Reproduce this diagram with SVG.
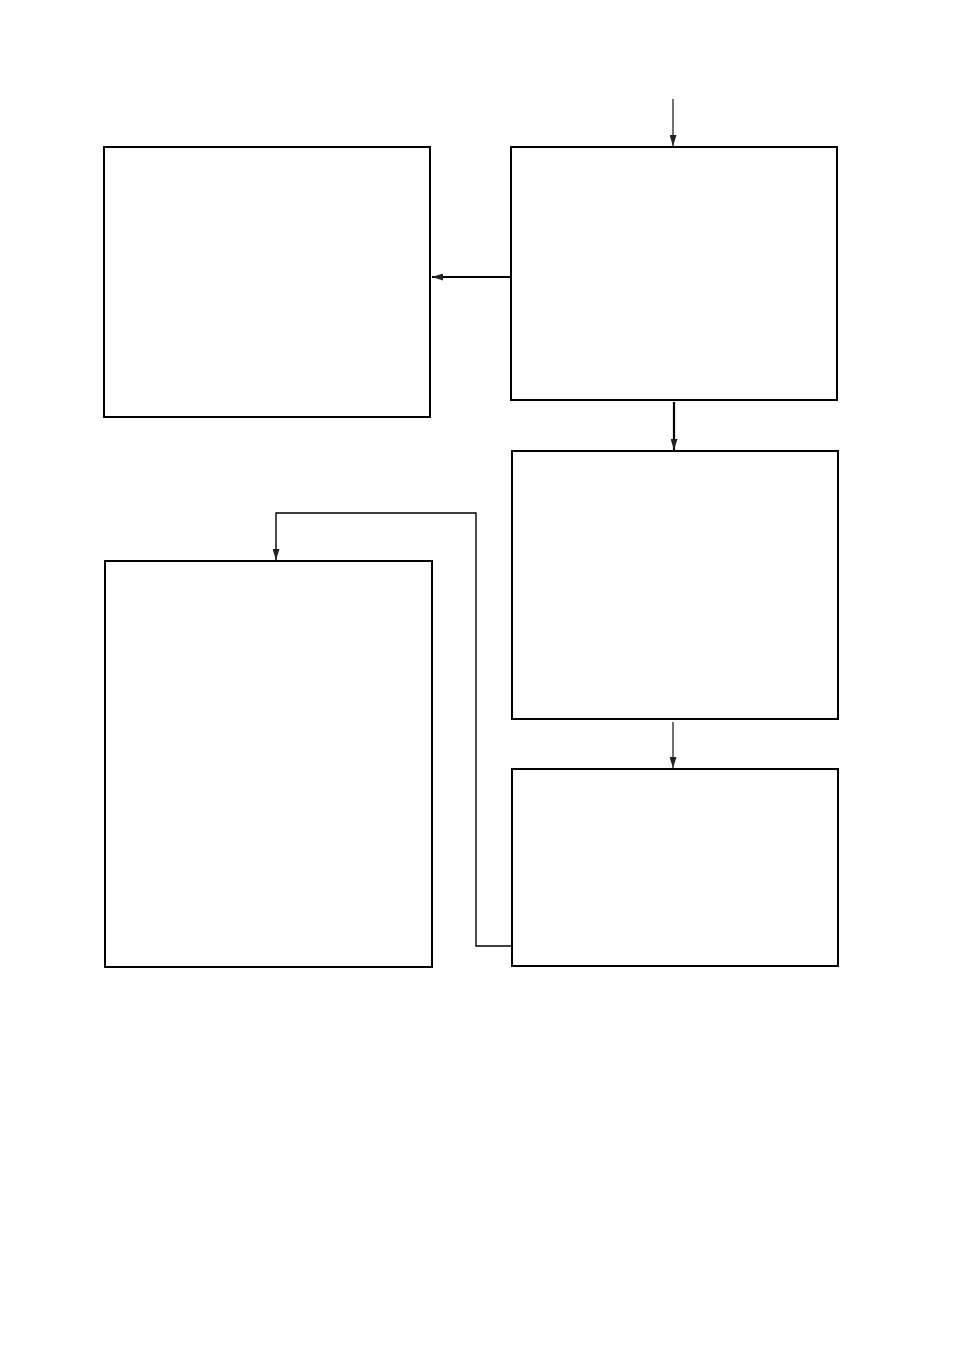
<svg xmlns="http://www.w3.org/2000/svg" width="954" height="1351" viewBox="0 0 954 1351">
<style>
.box{fill:#fff;stroke:#000;stroke-width:2}
.c{fill:none;stroke:#000}
</style>
<defs>
<marker id="ah" viewBox="0 0 11 7" refX="11" refY="3.5" markerWidth="11" markerHeight="7" markerUnits="userSpaceOnUse" orient="auto">
<path d="M0,0 L11,3.5 L0,7 Z" fill="#222"/>
</marker>
</defs>
<rect width="954" height="1351" fill="#fff"/>
<g id="connectors">
<line class="c" x1="673" y1="99" x2="673" y2="146" stroke-width="1.1" marker-end="url(#ah)"/>
<line class="c" x1="511" y1="277" x2="432" y2="277" stroke-width="2" marker-end="url(#ah)"/>
<line class="c" x1="674" y1="402" x2="674" y2="450" stroke-width="2.2" marker-end="url(#ah)"/>
<line class="c" x1="673" y1="722" x2="673" y2="768" stroke-width="1.1" marker-end="url(#ah)"/>
<polyline class="c" points="512,946 476,946 476,513 276,513 276,560" stroke-width="1.4" marker-end="url(#ah)"/>
</g>
<g id="nodeA"><rect class="box" x="104" y="147" width="326" height="270"/></g>
<g id="nodeB"><rect class="box" x="511" y="147" width="326" height="253"/></g>
<g id="nodeC"><rect class="box" x="512" y="451" width="326" height="268"/></g>
<g id="nodeD"><rect class="box" x="512" y="769" width="326" height="197"/></g>
<g id="nodeE"><rect class="box" x="105" y="561" width="327" height="406"/></g>
</svg>
